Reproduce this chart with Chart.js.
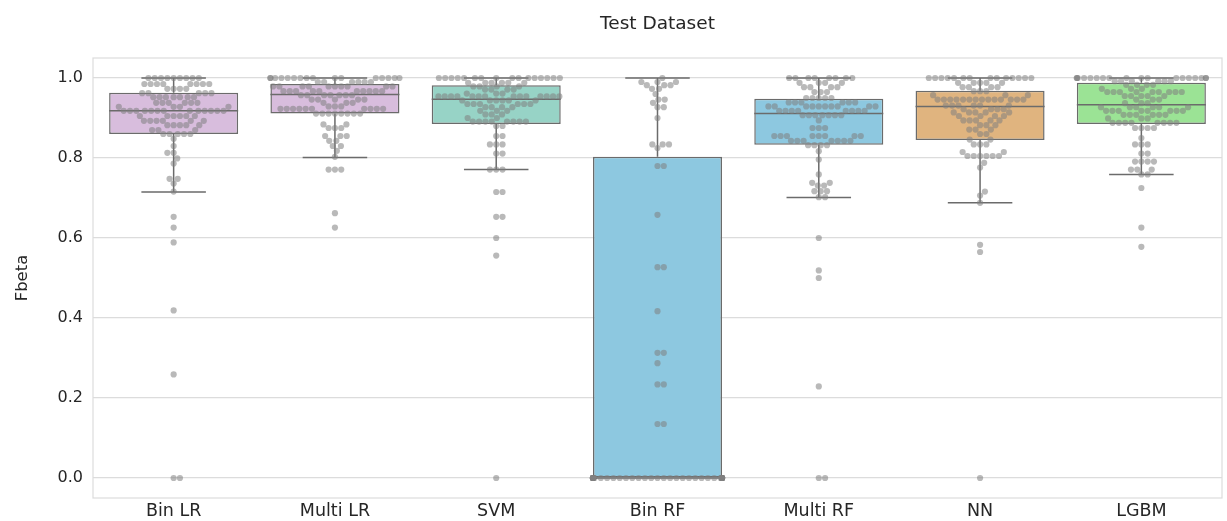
<!DOCTYPE html>
<html>
<head>
<meta charset="utf-8">
<script src="https://cdn.jsdelivr.net/npm/chart.js@4.4.0/dist/chart.umd.min.js"></script>
<style>
  html, body { margin: 0; padding: 0; background: #fff; }
  #wrap { width: 1227px; height: 521px; }
</style>
</head>
<body>
<div id="wrap"><canvas id="chart"></canvas></div>
<script>
// categories
const models = ["Bin LR", "Multi LR", "SVM", "Bin RF", "Multi RF", "NN", "LGBM"];
const yTicks = [0, 0.2, 0.4, 0.6, 0.8, 1.0];

// box statistics
const q1 = [0.860, 0.911, 0.885, 0.0, 0.833, 0.845, 0.885];
const median = [0.918, 0.959, 0.947, 0.0, 0.911, 0.929, 0.933];
const q3 = [0.963, 0.985, 0.982, 0.803, 0.948, 0.968, 0.988];
const whiskerLow = [0.715, 0.801, 0.771, 0.0, 0.701, 0.688, 0.759];
const whiskerHigh = [1.0, 1.0, 1.0, 1.0, 1.0, 1.0, 1.0];

// swarm points (Fbeta per run)
const binLR = [1,1,1,1,1,1,1,1,1, 0.985,0.985,0.985,0.985,0.985,0.985,0.985,0.985,
  0.973,0.973,0.973,0.973, 0.962,0.962,0.962,0.962,0.962, 0.952,0.952,0.952,0.952,0.952,0.952,0.952,
  0.938,0.938,0.938,0.938,0.938,0.938, 0.928,0.928,0.928,0.928,
  0.918,0.918,0.918,0.918,0.918,0.918,0.918,0.918,0.918,0.918,0.918,0.918,0.918,
  0.905,0.905,0.905,0.905,0.905,0.905, 0.893,0.893,0.893,0.893,0.893,0.893, 0.882,0.882,0.882,0.882,0.882,
  0.870,0.870,0.870, 0.860,0.860,0.860,0.860,0.860, 0.848, 0.830, 0.813,0.813, 0.799, 0.786,
  0.748,0.748, 0.736, 0.716, 0.653, 0.626, 0.589, 0.419, 0.259, 0, 0];
const multiLR = [1,1,1,1,1,1,1,1,1,1,1,1,1,1,1,1, 0.990,0.990,0.990,0.990,0.990,0.990,
  0.979,0.979,0.979,0.979,0.979,0.979,0.979,0.979,0.979,0.979, 0.967,0.967,0.967,0.967,0.967,0.967,0.967,0.967,0.967,0.967,
  0.957,0.957,0.957,0.957,0.957,0.957,0.957, 0.946,0.946,0.946,0.946,0.946, 0.938,0.938,0.938, 0.929,0.929,0.929,
  0.923,0.923,0.923,0.923,0.923,0.923,0.923,0.923,0.923,0.923, 0.911,0.911,0.911,0.911,0.911,0.911,0.911,0.911,
  0.884,0.884, 0.875,0.875,0.875, 0.855,0.855,0.855, 0.843,0.843, 0.830,0.830, 0.818, 0.803,
  0.771,0.771,0.771, 0.662, 0.626];
const svm = [1,1,1,1,1,1,1,1,1,1,1,1,1,1,1,1, 0.988,0.988,0.988,0.988,0.988,0.988, 0.979,0.979,0.979,0.979,
  0.971,0.971,0.971,0.971, 0.961,0.961,0.961,
  0.954,0.954,0.954,0.954,0.954,0.954,0.954,0.954,0.954,0.954,0.954,0.954,0.954,0.954,
  0.944,0.944,0.944,0.944,0.944,0.944, 0.935,0.935,0.935,0.935,0.935,0.935, 0.927,0.927,0.927,0.927,
  0.918,0.918,0.918, 0.909,0.909,0.909, 0.900,0.900, 0.891,0.891,0.891,0.891,0.891,0.891,0.891,0.891,
  0.880,0.880, 0.855,0.855, 0.834,0.834,0.834, 0.811,0.811, 0.771,0.771,0.771, 0.715,0.715, 0.653,0.653,
  0.600, 0.556, 0];
const binRF = [1, 0.990,0.990,0.990, 0.982,0.982,0.982, 0.973,0.973, 0.960, 0.946,0.946, 0.938, 0.927,0.927,
  0.900, 0.834,0.834,0.834, 0.825, 0.780,0.780, 0.658, 0.527,0.527, 0.417, 0.313,0.313, 0.287,
  0.234,0.234, 0.135,0.135,
  0,0,0,0,0,0,0,0,0,0, 0,0,0,0,0,0,0,0,0,0, 0,0,0,0,0,0,0,0,0,0, 0,0,0,0,0,0,0,0,0,0, 0,0,0,0,0,0,0,0,0,0];
const multiRF = [1,1,1,1,1,1,1,1, 0.988,0.988,0.988,0.988, 0.977,0.977,0.977,0.977, 0.965,0.965,0.965,
  0.950,0.950,0.950,0.950,0.950, 0.939,0.939,0.939,0.939,0.939,0.939,
  0.929,0.929,0.929,0.929,0.929,0.929,0.929,0.929,0.929,0.929, 0.918,0.918,0.918,0.918,0.918,0.918,0.918,0.918,
  0.907,0.907,0.907,0.907,0.907,0.907,0.907, 0.894, 0.875,0.875,0.875,
  0.855,0.855,0.855,0.855,0.855,0.855,0.855,0.855, 0.843,0.843,0.843,0.843,0.843,0.843,0.843,
  0.832,0.832,0.832,0.832, 0.817, 0.796, 0.759, 0.738,0.738, 0.731,0.731, 0.717,0.717,0.717, 0.702,0.702,
  0.600, 0.519, 0.500, 0.229, 0, 0];
const nn = [1,1,1,1,1,1,1,1,1,1,1,1,1,1, 0.988,0.988,0.988,0.988,0.988, 0.977,0.977,0.977,0.977,
  0.967,0.967,0.967, 0.957,0.957,0.957,
  0.946,0.946,0.946,0.946,0.946,0.946,0.946,0.946,0.946,0.946,0.946,0.946,0.946,0.946,
  0.931,0.931,0.931,0.931,0.931,0.931, 0.922,0.922,0.922,0.922, 0.914,0.914,0.914,0.914,0.914,
  0.905,0.905,0.905,0.905, 0.894,0.894,0.894,0.894,0.894, 0.882,0.882,0.882, 0.871,0.871,0.871,
  0.860,0.860, 0.846,0.846, 0.834,0.834,0.834, 0.815,0.815, 0.805,0.805,0.805,0.805,0.805,0.805,
  0.788, 0.776, 0.716, 0.706, 0.688, 0.583, 0.565, 0];
const lgbm = [1,1,1,1,1,1,1,1,1,1,1,1,1,1,1,1,1,1, 0.992,0.992,0.992,0.992,0.992,0.992,
  0.983,0.983,0.983,0.983, 0.973,0.973,0.973, 0.965,0.965,0.965,0.965,0.965,0.965,0.965,0.965,0.965,
  0.955,0.955,0.955,0.955,0.955, 0.946,0.946,0.946, 0.937,0.937,0.937, 0.927,0.927,0.927,0.927,0.927,0.927,
  0.918,0.918,0.918,0.918,0.918,0.918,0.918,0.918, 0.908,0.908,0.908,0.908,0.908,0.908, 0.899,0.899,0.899,
  0.888,0.888,0.888,0.888,0.888,0.888,0.888,0.888, 0.875,0.875,0.875,0.875, 0.850, 0.834,0.834,0.834,
  0.811,0.811, 0.791,0.791,0.791,0.791, 0.771,0.771,0.771, 0.759,0.759, 0.725, 0.626, 0.578];
const swarmValues = [binLR, multiLR, svm, binRF, multiRF, nn, lgbm];

const boxColors = ["#d8bddd", "#d8bddd", "#97d3c6", "#8dc8e0", "#8dc8e0", "#e0b47f", "#9be395"];
const edgeColor = "#6b6b6b";
const gridColor = "#dcdcdc";
const textColor = "#262626";
const fontFamily = "'DejaVu Sans', sans-serif";

// whiskers, caps and medians on top of the boxes
const boxParts = {
  id: "boxParts",
  afterDatasetDraw(chart, args) {
    if (args.index !== 0) return;
    const { ctx, scales: { x, y } } = chart;
    ctx.save();
    ctx.strokeStyle = edgeColor;
    ctx.lineWidth = 1.5;
    ctx.beginPath();
    models.forEach((m, i) => {
      const cx = x.getPixelForValue(i);
      const capL = x.getPixelForValue(i - 0.2);
      const capR = x.getPixelForValue(i + 0.2);
      const boxL = x.getPixelForValue(i - 0.4);
      const boxR = x.getPixelForValue(i + 0.4);
      const yHi = y.getPixelForValue(whiskerHigh[i]);
      const yLo = y.getPixelForValue(whiskerLow[i]);
      ctx.moveTo(cx, y.getPixelForValue(q3[i]));
      ctx.lineTo(cx, yHi);
      ctx.moveTo(cx, y.getPixelForValue(q1[i]));
      ctx.lineTo(cx, yLo);
      ctx.moveTo(capL, yHi);
      ctx.lineTo(capR, yHi);
      ctx.moveTo(capL, yLo);
      ctx.lineTo(capR, yLo);
      const ym = y.getPixelForValue(median[i]);
      ctx.moveTo(boxL, ym);
      ctx.lineTo(boxR, ym);
    });
    ctx.stroke();
    ctx.restore();
  },
};

// light frame round the plot area, title centred over the axes
const frame = {
  id: "frame",
  beforeDatasetsDraw(chart) {
    const { ctx, chartArea: a } = chart;
    ctx.save();
    ctx.strokeStyle = gridColor;
    ctx.lineWidth = 1.2;
    ctx.strokeRect(a.left, a.top, a.right - a.left, a.bottom - a.top);
    ctx.restore();
  },
  afterDraw(chart) {
    const { ctx, chartArea: a } = chart;
    ctx.save();
    ctx.fillStyle = textColor;
    ctx.font = "18.5px " + fontFamily;
    ctx.textAlign = "center";
    ctx.textBaseline = "middle";
    ctx.fillText("Test Dataset", (a.left + a.right) / 2, 24);
    ctx.restore();
  },
};

const chart = new Chart(document.getElementById("chart"), {
  type: "bar",
  data: {
    datasets: [
      {
        type: "bar",
        data: models.map((m, i) => ({ x: i, y: [q1[i], q3[i]] })),
        backgroundColor: boxColors,
        borderColor: edgeColor,
        borderWidth: 1.5,
        borderSkipped: false,
        categoryPercentage: 0.8,
        barPercentage: 1.0,
        grouped: false,
        order: 2,
      },
      {
        type: "scatter",
        data: [],
        backgroundColor: "rgba(128,128,128,0.55)",
        borderWidth: 0,
        pointRadius: 3.1,
        pointHoverRadius: 3.1,
        order: 1,
      },
    ],
  },
  options: {
    responsive: true,
    maintainAspectRatio: false,
    animation: false,
    layout: { padding: { left: 0, right: 5, top: 58, bottom: 0 } },
    plugins: {
      legend: { display: false },
      tooltip: { enabled: false },
      title: { display: false },
    },
    scales: {
      x: {
        type: "linear",
        offset: false,
        min: -0.5,
        max: 6.5,
        afterBuildTicks: (s) => { s.ticks = models.map((m, i) => ({ value: i })); },
        afterFit: (s) => { s.height = 23; },
        grid: { display: false, drawTicks: false },
        border: { display: false },
        ticks: {
          color: textColor,
          padding: 3,
          autoSkip: false,
          maxRotation: 0,
          font: { family: fontFamily, size: 17.5 },
          callback: (v) => models[v],
        },
      },
      y: {
        min: -0.05,
        max: 1.05,
        afterBuildTicks: (s) => { s.ticks = yTicks.map((v) => ({ value: v })); },
        afterFit: (s) => { s.width = 93; },
        grid: { color: gridColor, lineWidth: 1.2, drawTicks: false },
        border: { display: false },
        ticks: {
          color: textColor,
          padding: 10,
          font: { family: fontFamily, size: 16 },
          callback: (v) => v.toFixed(1),
        },
        title: {
          display: true,
          text: "Fbeta",
          color: textColor,
          font: { family: fontFamily, size: 16.5 },
          padding: { top: 13, bottom: 0 },
        },
      },
    },
  },
  plugins: [boxParts, frame],
});

// beeswarm placement in pixels, then back to data units
function layoutSwarm() {
  const { x, y } = chart.scales;
  const unit = x.getPixelForValue(1) - x.getPixelForValue(0);
  const halfW = 0.4 * unit;
  const d = 6.3;
  const pts = [];
  swarmValues.forEach((vals, i) => {
    const placed = [];
    vals.slice().sort((a, b) => a - b).forEach((v) => {
      const py = y.getPixelForValue(v);
      const near = placed.filter((q) => Math.abs(q.py - py) < d);
      const cands = [0];
      near.forEach((q) => {
        const dx = Math.sqrt(d * d - (q.py - py) * (q.py - py));
        cands.push(q.dx + dx, q.dx - dx);
      });
      cands.sort((a, b) => Math.abs(a) - Math.abs(b));
      const best = cands.find((c) =>
        near.every((q) => (c - q.dx) * (c - q.dx) + (q.py - py) * (q.py - py) >= d * d - 0.01)
      );
      placed.push({ py, dx: best });
      const dxc = Math.max(-halfW, Math.min(halfW, best));
      pts.push({ x: i + dxc / unit, y: v });
    });
  });
  chart.data.datasets[1].data = pts;
  chart.update("none");
}
layoutSwarm();
</script>
</body>
</html>
